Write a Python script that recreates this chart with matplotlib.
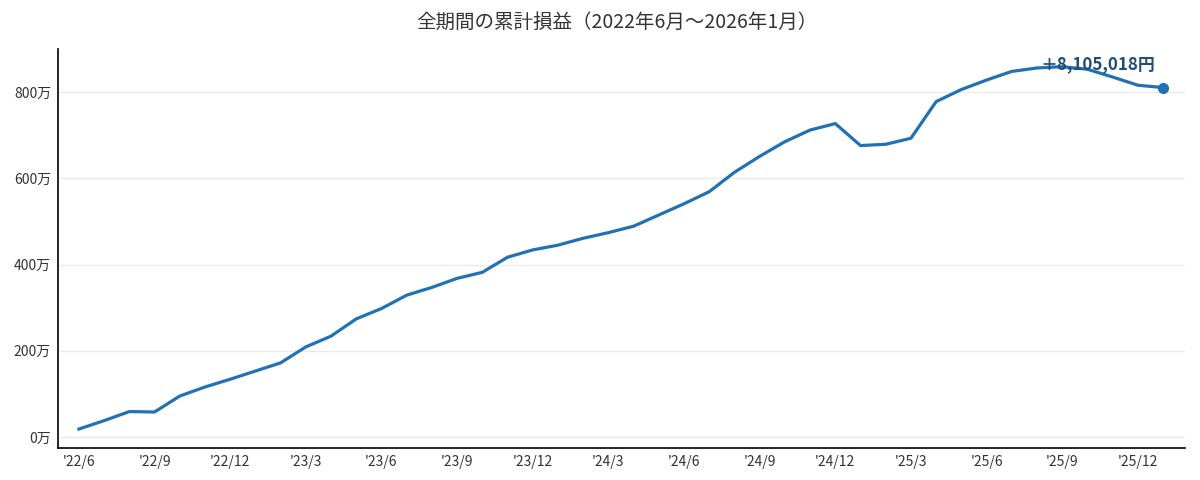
import matplotlib
matplotlib.use("Agg")
import matplotlib.pyplot as plt

plt.rcParams['font.family'] = ['Noto Sans CJK JP', 'DejaVu Sans']

# Months from 2022/6 to 2026/1
months = ['2022-06', '2022-07', '2022-08', '2022-09', '2022-10', '2022-11', '2022-12',
          '2023-01', '2023-02', '2023-03', '2023-04', '2023-05', '2023-06', '2023-07',
          '2023-08', '2023-09', '2023-10', '2023-11', '2023-12', '2024-01', '2024-02',
          '2024-03', '2024-04', '2024-05', '2024-06', '2024-07', '2024-08', '2024-09',
          '2024-10', '2024-11', '2024-12', '2025-01', '2025-02', '2025-03', '2025-04',
          '2025-05', '2025-06', '2025-07', '2025-08', '2025-09', '2025-10', '2025-11',
          '2025-12', '2026-01']
# Cumulative profit in 万円
cum_profit = [18.5, 38, 59, 58, 95, 116, 134, 153, 172, 209, 234, 274, 298, 329,
              347, 368, 382, 417, 434, 445, 461, 474, 489, 515, 541, 569, 614, 651,
              685, 712, 727, 676, 679, 693, 778, 806, 828, 848, 856, 859, 853, 835,
              816, 810.5018]
final_label = '＋8,105,018円'
yticks = [0, 200, 400, 600, 800]
ytick_labels = ['0万', '200万', '400万', '600万', '800万']
xtick_idx = list(range(0, 44, 3))
xtick_labels = ["'22/6", "'22/9", "'22/12", "'23/3", "'23/6", "'23/9", "'23/12",
                "'24/3", "'24/6", "'24/9", "'24/12", "'25/3", "'25/6", "'25/9", "'25/12"]
title = '全期間の累計損益（2022年6月～2026年1月）'

line_color = '#2271b5'

fig = plt.figure(figsize=(12, 4.8), dpi=100)
ax = fig.add_axes([58/1200, 1-448/480, (1185-58)/1200, (448-49)/480])

x = list(range(len(months)))
ax.plot(x, cum_profit, color=line_color, linewidth=2.3, solid_joinstyle='round', zorder=3)
ax.plot([x[-1]], [cum_profit[-1]], 'o', color=line_color, markersize=7, zorder=4)
ax.annotate(final_label, xy=(x[-1], cum_profit[-1]), xytext=(-8, 23),
            textcoords='offset pixels', ha='right', va='center',
            fontsize=12.2, fontweight='bold', color='#1f4e79', zorder=5)

ax.set_xlim(-0.83, 43.87)
ax.set_ylim(-25.5, 900)
ax.set_yticks(yticks)
ax.set_yticklabels(ytick_labels)
ax.set_xticks(xtick_idx)
ax.set_xticklabels(xtick_labels)
ax.tick_params(axis='both', length=0, labelsize=10, colors='#333333')
ax.tick_params(axis='y', pad=5)
ax.tick_params(axis='x', pad=5)
ax.grid(axis='y', color='#ebebeb', linewidth=1)
ax.set_axisbelow(True)
for s in ['top', 'right']:
    ax.spines[s].set_visible(False)
for s in ['left', 'bottom']:
    ax.spines[s].set_color('black')
    ax.spines[s].set_linewidth(1.2)

fig.text(617/1200, 1-22/480, title, ha='center', va='center', fontsize=14, color='#333333')

fig.savefig('out.png', dpi=100)
